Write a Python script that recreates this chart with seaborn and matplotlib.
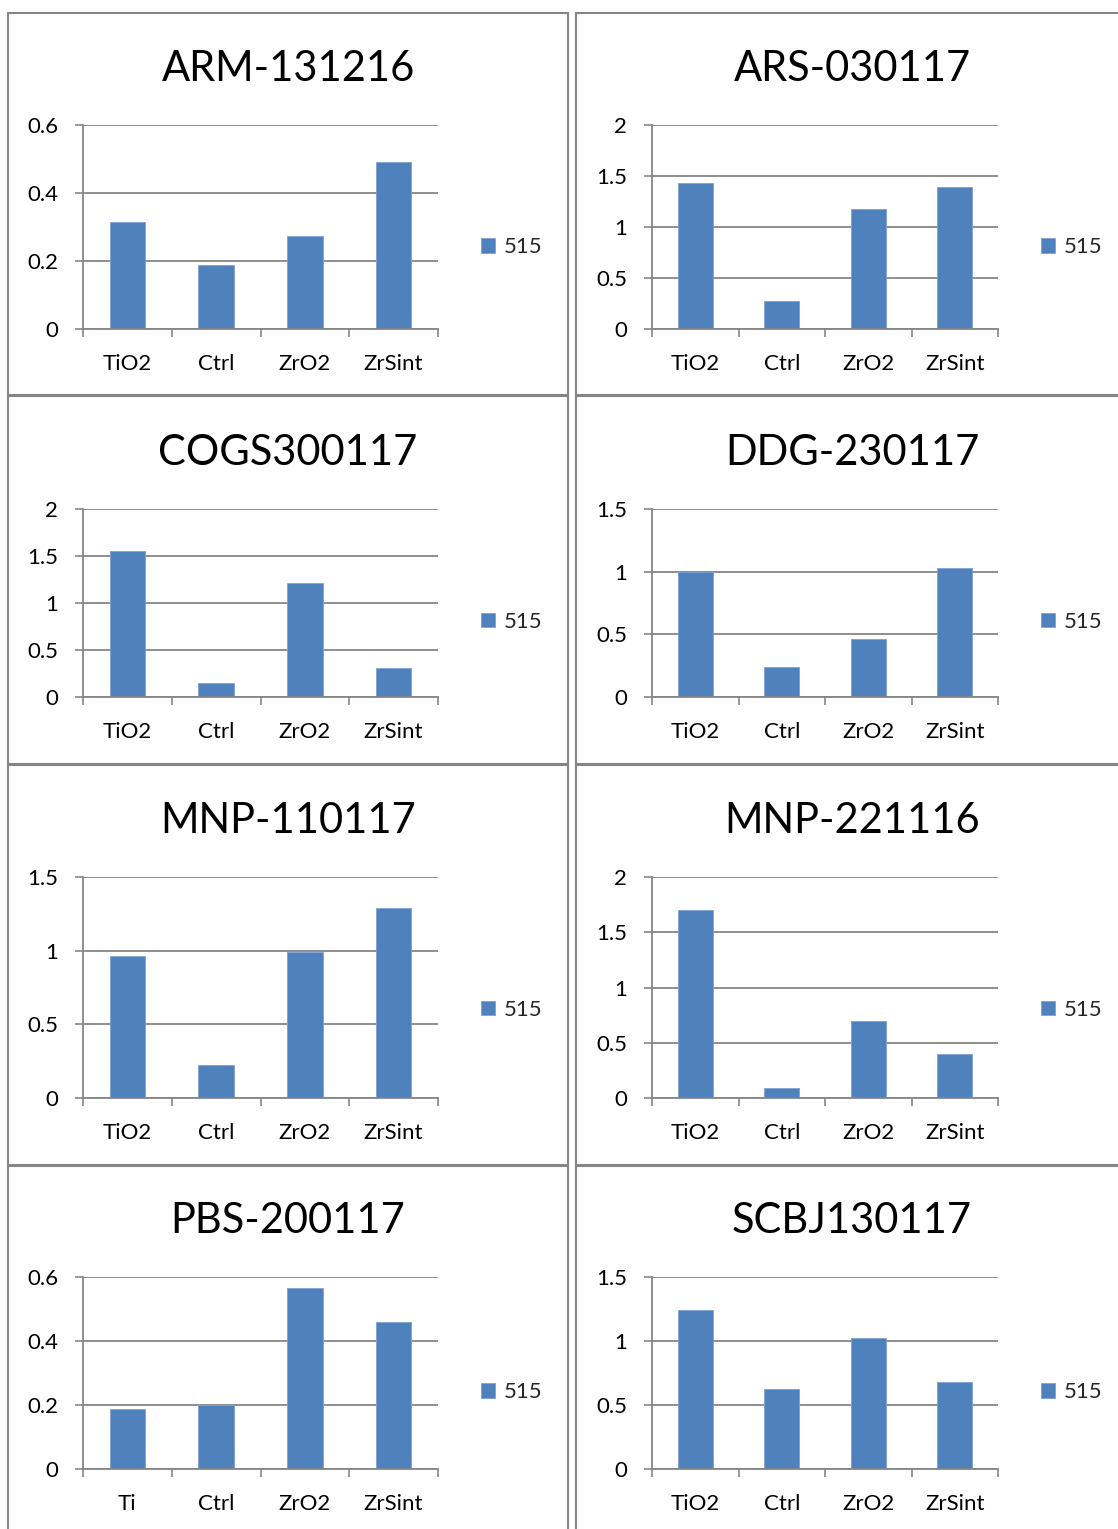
import matplotlib
matplotlib.use("Agg")
import matplotlib.pyplot as plt
from matplotlib.patches import Rectangle
import seaborn as sns
import pandas as pd

# Sample categories
cats_default = ["TiO2", "Ctrl", "ZrO2", "ZrSint"]
cats_pbs = ["Ti", "Ctrl", "ZrO2", "ZrSint"]

# Measured values (series "515") per sample
arm_131216 = [0.314, 0.189, 0.273, 0.491]
ars_030117 = [1.436, 0.270, 1.180, 1.390]
cogs300117 = [1.551, 0.150, 1.212, 0.310]
ddg_230117 = [1.000, 0.240, 0.461, 1.029]
mnp_110117 = [0.963, 0.224, 0.993, 1.288]
mnp_221116 = [1.700, 0.094, 0.697, 0.394]
pbs_200117 = [0.189, 0.200, 0.565, 0.458]
scbj130117 = [1.243, 0.625, 1.024, 0.678]

titles = ["ARM-131216", "ARS-030117", "COGS300117", "DDG-230117",
          "MNP-110117", "MNP-221116", "PBS-200117", "SCBJ130117"]
series_name = "515"

# y-axis ticks per panel
ticks_06 = [0, 0.2, 0.4, 0.6]
ticks_20 = [0, 0.5, 1, 1.5, 2]
ticks_15 = [0, 0.5, 1, 1.5]

panels = [
    (titles[0], cats_default, arm_131216, ticks_06),
    (titles[1], cats_default, ars_030117, ticks_20),
    (titles[2], cats_default, cogs300117, ticks_20),
    (titles[3], cats_default, ddg_230117, ticks_15),
    (titles[4], cats_default, mnp_110117, ticks_15),
    (titles[5], cats_default, mnp_221116, ticks_20),
    (titles[6], cats_pbs, pbs_200117, ticks_06),
    (titles[7], cats_default, scbj130117, ticks_15),
]

W, H = 1118, 1529
GRAY = "#868686"
BLUE = "#4F81BD"

sns.set_style("white")
plt.rcParams["font.family"] = ["Lato", "DejaVu Sans"]

fig = plt.figure(figsize=(W / 100, H / 100), dpi=100)

# pixel layout of panels
col_axes = [(83, 438), (652, 998)]
col_frames = [(8, 568), (576, 1128)]
col_title_x = [288, 852]
row_axes = [(125, 329), (509, 697), (877, 1098), (1277, 1469)]
row_frames = [(13, 395), (396, 764), (765, 1165), (1166, 1545)]
row_title_base = [81, 465, 833, 1233]


def fmt(v):
    return "0" if v == 0 else ("%g" % v)


for i, (title, cats, vals, ticks) in enumerate(panels):
    r, c = divmod(i, 2)
    fx0, fx1 = col_frames[c]
    fy0, fy1 = row_frames[r]
    fig.add_artist(Rectangle((fx0 / W, 1 - fy1 / H), (fx1 - fx0) / W, (fy1 - fy0) / H,
                             transform=fig.transFigure, fill=False,
                             edgecolor=GRAY, linewidth=1.5))

    x0, x1 = col_axes[c]
    y0, y1 = row_axes[r]
    ax = fig.add_axes([x0 / W, 1 - y1 / H, (x1 - x0) / W, (y1 - y0) / H])

    df = pd.DataFrame({"cat": cats, "val": vals})
    sns.barplot(data=df, x="cat", y="val", color=BLUE, saturation=1, width=0.4,
                edgecolor="#7EA2D0", linewidth=0.6, label=series_name, ax=ax)

    ax.set_xlim(-0.5, 3.5)
    ax.set_ylim(0, ticks[-1])
    ax.set_yticks(ticks)
    ax.set_yticklabels([fmt(t) for t in ticks])
    ax.set_xlabel("")
    ax.set_ylabel("")

    ax.grid(axis="y", color=GRAY, linewidth=1.3)
    ax.grid(axis="x", visible=False)
    ax.set_axisbelow(True)
    for side in ("top", "right"):
        ax.spines[side].set_visible(False)
    for side in ("left", "bottom"):
        ax.spines[side].set_color(GRAY)
        ax.spines[side].set_linewidth(1.3)

    ax.tick_params(axis="y", length=5.8, width=1.2, color=GRAY, pad=12,
                   labelsize=16, labelcolor="black", left=True)
    ax.tick_params(axis="x", which="major", length=0, pad=18,
                   labelsize=16, labelcolor="black")
    ax.set_xticks([-0.5, 0.5, 1.5, 2.5, 3.5], minor=True)
    ax.tick_params(axis="x", which="minor", length=5.8, width=1.2,
                   color=GRAY, bottom=True)

    ax.legend(loc="center left", bbox_to_anchor=((481 - x0) / (x1 - x0) if c == 0
                                                  else (1041 - x0) / (x1 - x0), 0.40),
              frameon=False, fontsize=16, handlelength=0.62, handleheight=0.62,
              handletextpad=0.4, borderaxespad=0, borderpad=0)

    fig.text(col_title_x[c] / W, 1 - row_title_base[r] / H, title,
             ha="center", va="baseline", fontsize=30, color="black")

fig.savefig("out.png", dpi=100, facecolor="white")
